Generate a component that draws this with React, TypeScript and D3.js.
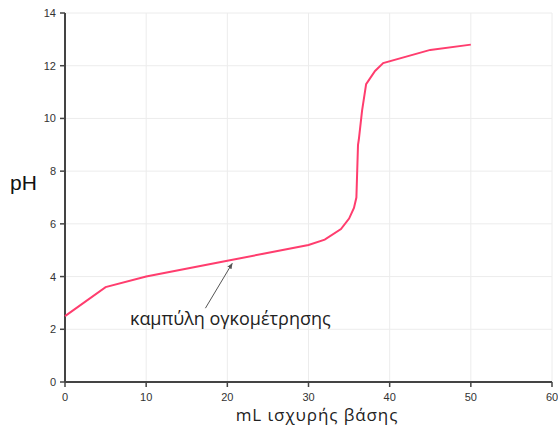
import React from 'react';
import * as d3 from 'd3';

// titration curve
const baseML = [0, 5, 10, 20, 30, 32, 34, 35, 35.6, 35.9, 36.1, 36.2, 36.6, 37.1, 38.2, 39.2, 45, 50];
const phValues = [2.5, 3.6, 4.0, 4.6, 5.2, 5.4, 5.8, 6.2, 6.6, 7.0, 9.0, 9.2, 10.3, 11.3, 11.8, 12.1, 12.6, 12.8];
const xTicks = [0, 10, 20, 30, 40, 50, 60];
const yTicks = [0, 2, 4, 6, 8, 10, 12, 14];
const curveLabel = 'καμπύλη ογκομέτρησης';
const xTitle = 'mL ισχυρής βάσης';
const yTitle = 'pH';

const width = 558;
const height = 427;
const margin = { top: 13, right: 6, bottom: 45, left: 65 };

const App = () => {
  const x = d3.scaleLinear().domain([0, 60]).range([margin.left, width - margin.right]);
  const y = d3.scaleLinear().domain([0, 14]).range([height - margin.bottom, margin.top]);

  const line = d3
    .line<number>()
    .x((_, i) => x(baseML[i]))
    .y((d) => y(d));

  const font = '"Liberation Sans", Arial, sans-serif';
  const labelFont = '"Open Sans", "Noto Sans", sans-serif';
  const x0 = x(0);
  const y0 = y(0);

  // annotation arrow: from text up to the curve near 20.5 mL
  const tipX = x(20.6);
  const tipY = y(4.5);
  const tailX = x(17.3);
  const tailY = y(2.8);

  return (
    <svg width={width} height={height} style={{ position: 'absolute', left: 0, top: 0 }} fontFamily={font}>
      <defs>
        <marker id="arr" viewBox="0 0 10 10" refX="9" refY="5" markerWidth="6" markerHeight="6" orient="auto">
          <path d="M0,1 L10,5 L0,9 z" fill="#555" />
        </marker>
      </defs>
      <rect width={width} height={height} fill="white" />
      {/* grid */}
      {xTicks.map((t) => (
        <line key={'gx' + t} x1={x(t)} x2={x(t)} y1={y(14)} y2={y0} stroke="#ececec" strokeWidth={1} />
      ))}
      {yTicks.map((t) => (
        <line key={'gy' + t} x1={x0} x2={x(60)} y1={y(t)} y2={y(t)} stroke="#ececec" strokeWidth={1} />
      ))}
      {/* axes */}
      <line x1={x0} x2={x0} y1={y(14)} y2={y0} stroke="#444" strokeWidth={2} />
      <line x1={x0} x2={x(60)} y1={y0} y2={y0} stroke="#444" strokeWidth={2} />
      {xTicks.map((t) => (
        <g key={'tx' + t}>
          <line x1={x(t)} x2={x(t)} y1={y0} y2={y0 + 5} stroke="#444" strokeWidth={1.5} />
          <text x={x(t)} y={y0 + 19} fontSize={11} textAnchor="middle" fill="#333">
            {t}
          </text>
        </g>
      ))}
      {yTicks.map((t) => (
        <g key={'ty' + t}>
          <line x1={x0 - 5} x2={x0} y1={y(t)} y2={y(t)} stroke="#444" strokeWidth={1.5} />
          <text x={x0 - 9} y={y(t) + 4} fontSize={11} textAnchor="end" fill="#333">
            {t}
          </text>
        </g>
      ))}
      {/* curve */}
      <path d={line(phValues) || ''} fill="none" stroke="#ff3d6e" strokeWidth={2} />
      {/* annotation */}
      <line x1={tailX} y1={tailY} x2={tipX} y2={tipY} stroke="#555" strokeWidth={1} markerEnd="url(#arr)" />
      <text x={x(8)} y={325} fontSize={18} fill="#222" fontFamily={labelFont}>
        {curveLabel}
      </text>
      {/* titles */}
      <text
        x={317}
        y={421}
        fontSize={17}
        letterSpacing={0.9}
        textAnchor="middle"
        fill="#222"
        fontFamily={labelFont}
      >
        {xTitle}
      </text>
      <text x={10} y={190} fontSize={21} fill="#111">
        {yTitle}
      </text>
    </svg>
  );
};

export default App;
